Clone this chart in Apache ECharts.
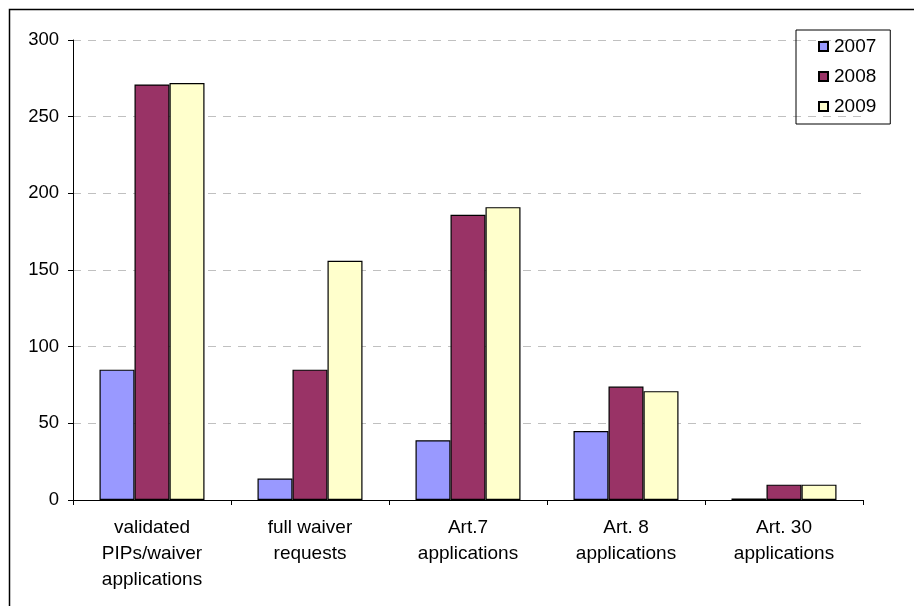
<!DOCTYPE html>
<html>
<head>
<meta charset="utf-8">
<script src="https://cdn.jsdelivr.net/npm/echarts@6/dist/echarts.min.js"></script>
<style>html,body{margin:0;padding:0;background:#fff;}#c{width:914px;height:606px;}</style>
</head>
<body>
<div id="c"></div>
<script>
const categories = ['validated\nPIPs/waiver\napplications', 'full waiver\nrequests', 'Art.7\napplications', 'Art. 8\napplications', 'Art. 30\napplications'];
const seriesNames = ['2007', '2008', '2009'];
const values2007 = [85, 14, 39, 45, 1];
const values2008 = [271, 85, 186, 74, 10];
const values2009 = [272, 156, 191, 71, 10];
const colors = ['#9999FF', '#993366', '#FFFFCC'];
const yTicks = { min: 0, max: 300, interval: 50 };

const font = '"Liberation Sans", Arial, sans-serif';
const chart = echarts.init(document.getElementById('c'), null, { renderer: 'canvas' });
const data = [values2007, values2008, values2009];
chart.setOption({
  animation: false,
  backgroundColor: '#fff',
  textStyle: { fontFamily: font, color: '#000' },
  graphic: [{
    type: 'rect', left: 7, top: 7, z: -1,
    shape: { width: 1000, height: 1000 },
    style: { fill: 'none', stroke: '#000', lineWidth: 1.5 }
  }],
  grid: { left: 73, right: 51, top: 40, bottom: 106, containLabel: false },
  legend: {
    orient: 'vertical', left: 796, top: 30,
    data: seriesNames,
    itemWidth: 9, itemHeight: 9, itemGap: 11,
    padding: [7, 14, 8, 22],
    borderColor: '#000', borderWidth: 1,
    icon: 'rect',
    textStyle: { fontSize: 19, fontFamily: font, color: '#000', lineHeight: 18, padding: [0, 0, 0, 1] }
  },
  xAxis: {
    type: 'category', data: categories,
    axisLine: { lineStyle: { color: '#000', width: 1 } },
    axisTick: { show: true, length: 5, lineStyle: { color: '#000' } },
    axisLabel: { fontSize: 19, lineHeight: 26, color: '#000', margin: 15, fontFamily: font, interval: 0 }
  },
  yAxis: {
    type: 'value', min: yTicks.min, max: yTicks.max, interval: yTicks.interval,
    axisLine: { show: true, lineStyle: { color: '#000', width: 1 } },
    axisTick: { show: true, length: 5, lineStyle: { color: '#000' } },
    axisLabel: { fontSize: 18.5, color: '#000', margin: 14, fontFamily: font },
    splitLine: { show: true, lineStyle: { color: '#c0c0c0', type: [8, 7], width: 1 } }
  },
  series: seriesNames.map((n, i) => ({
    name: n, type: 'bar', data: data[i],
    barWidth: 35, barGap: '0%',
    itemStyle: { color: colors[i], borderColor: '#000', borderWidth: 1.2 }
  }))
});
</script>
</body>
</html>
